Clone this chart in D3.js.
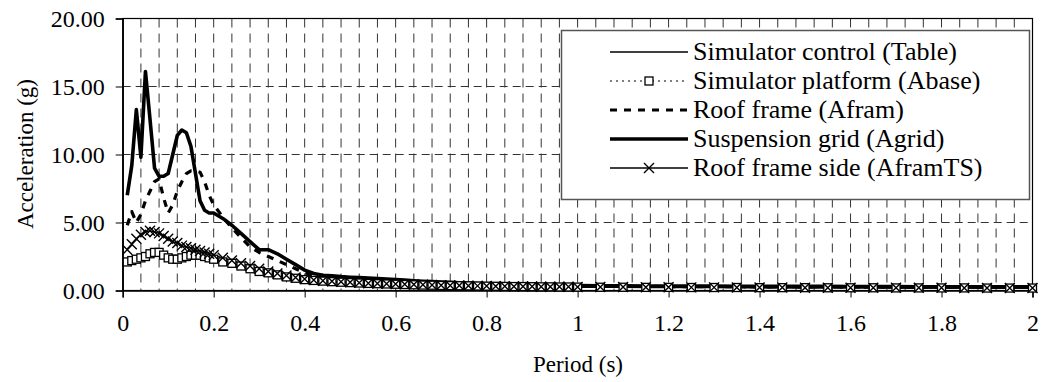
<!DOCTYPE html>
<html><head><meta charset="utf-8">
<script src="https://cdn.jsdelivr.net/npm/d3@7"></script>
<style>
svg text { font-family: "Liberation Serif", "Times New Roman", serif !important; }
</style>
</head>
<body style="margin:0;padding:0;background:#fff;"><svg id="chart" width="1043" height="382" font-family="Liberation Serif"></svg>
<script>
const periods = [0.01,0.02,0.03,0.04,0.05,0.06,0.07,0.08,0.09,0.10,0.11,0.12,0.13,0.14,0.15,0.16,0.17,0.18,0.19,0.20,
0.22,0.24,0.26,0.28,0.30,0.32,0.34,0.36,0.38,0.40,0.42,0.44,0.46,0.48,0.50,
0.52,0.54,0.56,0.58,0.60,0.62,0.64,0.66,0.68,0.70,0.72,0.74,0.76,0.78,0.80,0.82,0.84,0.86,0.88,0.90,0.92,0.94,0.96,0.98,1.00,
1.05,1.10,1.15,1.20,1.25,1.30,1.35,1.40,1.45,1.50,1.55,1.60,1.65,1.70,1.75,1.80,1.85,1.90,1.95,2.00];

const tableVals = [2.0,2.1,2.2,2.3,2.4,2.5,2.6,2.6,2.5,2.3,2.2,2.2,2.3,2.4,2.5,2.5,2.5,2.4,2.3,2.2,
2.0,1.9,1.7,1.5,1.35,1.2,1.1,0.95,0.85,0.77,0.71,0.66,0.62,0.59,0.56,
0.53,0.50,0.48,0.46,0.44,0.42,0.40,0.39,0.37,0.36,0.35,0.34,0.33,0.32,0.31,0.30,0.29,0.28,0.28,0.27,0.26,0.26,0.25,0.25,0.24,
0.23,0.23,0.22,0.22,0.21,0.21,0.21,0.20,0.20,0.20,0.19,0.19,0.19,0.18,0.18,0.18,0.18,0.17,0.17,0.17];

const abaseVals = [2.1,2.2,2.3,2.4,2.5,2.7,2.8,2.8,2.6,2.4,2.3,2.3,2.4,2.5,2.6,2.6,2.6,2.5,2.4,2.3,
2.1,2.0,1.8,1.6,1.4,1.3,1.15,1.0,0.9,0.8,0.74,0.69,0.65,0.61,0.58,
0.55,0.52,0.50,0.48,0.46,0.44,0.42,0.40,0.39,0.37,0.36,0.35,0.34,0.33,0.32,0.31,0.30,0.29,0.29,0.28,0.27,0.27,0.26,0.26,0.25,
0.24,0.24,0.23,0.23,0.22,0.22,0.22,0.21,0.21,0.21,0.20,0.20,0.20,0.19,0.19,0.19,0.19,0.18,0.18,0.18];

const aframVals = [4.8,5.8,5.0,5.6,6.6,7.3,8.0,8.2,6.8,5.7,6.3,7.3,8.0,8.6,8.8,8.8,8.7,8.0,7.0,6.3,
5.4,4.6,3.9,3.2,2.8,2.5,2.2,1.9,1.6,1.3,1.1,1.0,0.95,0.9,0.87,
0.84,0.80,0.77,0.73,0.70,0.66,0.63,0.60,0.57,0.55,0.52,0.50,0.48,0.46,0.44,0.42,0.41,0.39,0.38,0.37,0.36,0.35,0.34,0.33,0.32,
0.31,0.30,0.30,0.29,0.29,0.28,0.28,0.27,0.27,0.27,0.26,0.26,0.26,0.25,0.25,0.25,0.25,0.24,0.24,0.24];

const agridVals = [7.0,9.2,13.3,9.8,16.1,12.6,9.0,8.4,8.4,8.6,10.0,11.4,11.8,11.6,10.6,8.6,6.6,5.9,5.7,5.7,
5.3,4.8,4.2,3.6,3.0,3.0,2.7,2.3,1.9,1.5,1.25,1.12,1.08,1.02,0.98,
0.95,0.92,0.88,0.84,0.80,0.76,0.72,0.68,0.65,0.62,0.60,0.57,0.55,0.52,0.50,0.48,0.46,0.44,0.43,0.41,0.40,0.39,0.38,0.37,0.36,
0.35,0.34,0.33,0.33,0.32,0.32,0.31,0.31,0.30,0.30,0.30,0.29,0.29,0.29,0.28,0.28,0.28,0.27,0.27,0.27];

const aframTSVals = [3.0,3.4,3.8,4.1,4.3,4.4,4.3,4.2,4.0,3.8,3.6,3.5,3.3,3.2,3.1,3.0,2.9,2.8,2.7,2.6,
2.4,2.2,2.0,1.8,1.6,1.4,1.25,1.1,0.95,0.85,0.78,0.72,0.68,0.64,0.60,
0.57,0.54,0.52,0.50,0.48,0.46,0.44,0.42,0.40,0.39,0.37,0.36,0.35,0.34,0.33,0.32,0.31,0.30,0.30,0.29,0.28,0.28,0.27,0.27,0.26,
0.25,0.25,0.24,0.24,0.23,0.23,0.22,0.22,0.22,0.21,0.21,0.21,0.20,0.20,0.20,0.20,0.19,0.19,0.19,0.19];

const seriesNames = ["Simulator control (Table)","Simulator platform (Abase)","Roof frame (Afram)","Suspension grid (Agrid)","Roof frame side (AframTS)"];
const xTickVals = [0,0.2,0.4,0.6,0.8,1,1.2,1.4,1.6,1.8,2];
const yTickVals = [0,5,10,15,20];
const xGridStep = 0.04;

const FONT = '"Liberation Serif", "Times New Roman", serif';
function setFont(sel, size){
  sel.each(function(){
    this.style.setProperty("font-family", FONT, "important");
    this.style.setProperty("font-size", size + "px", "important");
  });
  return sel;
}

const series = [
  {name: seriesNames[0], values: tableVals, width: 1.3, dash: null, marker: null},
  {name: seriesNames[1], values: abaseVals, width: 1.2, dash: "2,4", marker: "square"},
  {name: seriesNames[2], values: aframVals, width: 3.2, dash: "7,7", marker: null},
  {name: seriesNames[3], values: agridVals, width: 3.6, dash: null, marker: null},
  {name: seriesNames[4], values: aframTSVals, width: 1.3, dash: null, marker: "x"}
];

const svg = d3.select("#chart");
const L = 122.7, R = 1032.5, T = 18.5, B = 290.5;
const x = d3.scaleLinear().domain([0,2]).range([L,R]);
const y = d3.scaleLinear().domain([0,20]).range([B,T]);

// grid
const xGrid = d3.range(1, 50).map(i => +(i*xGridStep).toFixed(2));
svg.append("g").selectAll("line").data(xGrid).join("line")
  .attr("x1", d=>x(d)).attr("x2", d=>x(d)).attr("y1", T).attr("y2", B)
  .attr("stroke","#333").attr("stroke-width",1).attr("stroke-dasharray","9,6");
svg.append("g").selectAll("line").data(yTickVals.filter(v=>v>0 && v<20)).join("line")
  .attr("x1", L).attr("x2", R).attr("y1", d=>y(d)).attr("y2", d=>y(d))
  .attr("stroke","#333").attr("stroke-width",1).attr("stroke-dasharray","8,5");

// frame
svg.append("rect").attr("x",L).attr("y",T).attr("width",R-L).attr("height",B-T)
  .attr("fill","none").attr("stroke","#000").attr("stroke-width",1.2);

// axes
const xAxis = d3.axisBottom(x).tickValues(xTickVals).tickSize(7).tickPadding(16)
  .tickFormat(d => d3.format("")(+d.toFixed(1)));
const gx = svg.append("g").attr("transform",`translate(0,${B})`).call(xAxis);
const yAxis = d3.axisLeft(y).tickValues(yTickVals).tickSize(7).tickPadding(11)
  .tickFormat(d3.format(".2f"));
const gy = svg.append("g").attr("transform",`translate(${L},0)`).call(yAxis);
[gx,gy].forEach(g=>{
  g.attr("font-family", "Liberation Serif").attr("font-size", 24);
  g.select(".domain").attr("stroke","#000").attr("stroke-width",1.5);
  g.selectAll(".tick line").attr("stroke","#000").attr("stroke-width",1);
  setFont(g.selectAll(".tick text").attr("fill","#000"), 24);
});

// lines
const plot = svg.append("g");
const line = d3.line().x((d,i)=>x(periods[i])).y(d=>y(d));
series.forEach(s=>{
  plot.append("path").datum(s.values).attr("d",line)
    .attr("fill","none").attr("stroke","#000").attr("stroke-width",s.width)
    .attr("stroke-linejoin","round")
    .attr("stroke-dasharray", s.dash);
});

function drawMarker(g, type, cx, cy){
  if(type==="square"){
    g.append("rect").attr("x",cx-4).attr("y",cy-4).attr("width",8).attr("height",8)
      .attr("fill","#fff").attr("stroke","#000").attr("stroke-width",1.3);
  } else if(type==="x"){
    g.append("path").attr("d",`M${cx-5},${cy-5}L${cx+5},${cy+5}M${cx-5},${cy+5}L${cx+5},${cy-5}`)
      .attr("stroke","#000").attr("stroke-width",1.4).attr("fill","none");
  }
}
series.forEach(s=>{
  if(!s.marker) return;
  const g = plot.append("g");
  s.values.forEach((v,i)=>drawMarker(g, s.marker, x(periods[i]), y(v)));
});

// legend
const lg = svg.append("g");
lg.append("rect").attr("x",561.5).attr("y",30.5).attr("width",468).attr("height",169)
  .attr("fill","#fff").attr("stroke","#555").attr("stroke-width",1.5);
series.forEach((s,i)=>{
  const cy = 52 + i*29;
  lg.append("line").attr("x1",610).attr("x2",688).attr("y1",cy).attr("y2",cy)
    .attr("stroke","#000").attr("stroke-width",s.width).attr("stroke-dasharray",s.dash);
  if(s.marker) drawMarker(lg, s.marker, 649, cy);
  setFont(lg.append("text").attr("x",693).attr("y",cy+8).attr("fill","#000")
    .text(s.name), 26);
});

// titles
setFont(svg.append("text").attr("transform",`translate(33,154) rotate(-90)`).attr("text-anchor","middle")
  .attr("fill","#000").text("Acceleration (g)"), 23);
setFont(svg.append("text").attr("x",578).attr("y",372).attr("text-anchor","middle")
  .attr("fill","#000").text("Period (s)"), 23);
</script></body></html>
